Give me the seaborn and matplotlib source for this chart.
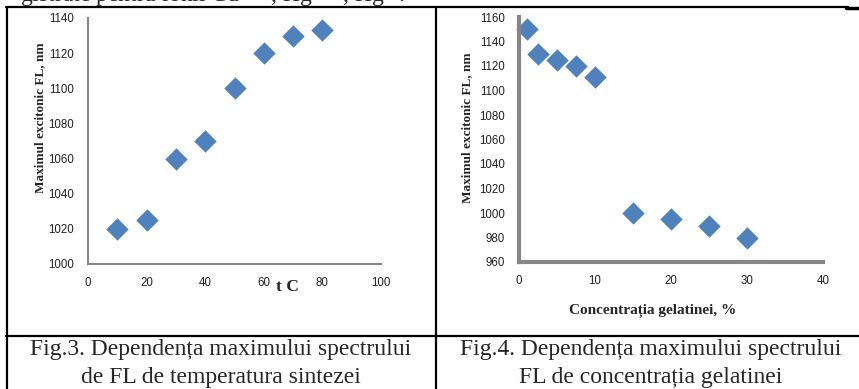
import numpy as np
import matplotlib
matplotlib.use("Agg")
import matplotlib.pyplot as plt
from matplotlib.lines import Line2D
import seaborn as sns
import pandas as pd

# Fig.3 - temperature of synthesis
temp_c = [10, 20, 30, 40, 50, 60, 70, 80]
max_fl_temp = [1020, 1025, 1060, 1070, 1100, 1120, 1130, 1133]

# Fig.4 - gelatin concentration
gel_conc = [1, 2.5, 5, 7.5, 10, 15, 20, 25, 30]
max_fl_gel = [1150, 1130, 1125, 1120, 1111, 1000, 995, 989, 980]

temp_ticks_x = [0, 20, 40, 60, 80, 100]
temp_ticks_y = [1000, 1020, 1040, 1060, 1080, 1100, 1120, 1140]
gel_ticks_x = [0, 10, 20, 30, 40]
gel_ticks_y = list(range(960, 1161, 20))

sns.set_theme(style="white")
plt.rcParams['font.family'] = ['Liberation Sans', 'DejaVu Sans']

W, H = 859, 389
fig = plt.figure(figsize=(W / 100, H / 100), dpi=100)

def fx(px):
    return px / W

def fy(py):
    return 1 - py / H

marker_color = '#4F81BD'
axis_gray = '#868686'
serif = ['Liberation Serif', 'DejaVu Serif']

def style_axes(ax, spine_w):
    for s in ['top', 'right']:
        ax.spines[s].set_visible(False)
    for s in ['left', 'bottom']:
        ax.spines[s].set_color(axis_gray)
        ax.spines[s].set_linewidth(spine_w)
    ax.tick_params(axis='both', which='major', direction='out', length=3,
                   width=1, color=axis_gray, labelsize=8.3, labelcolor='#222222')
    ax.tick_params(axis='x', pad=6)
    ax.tick_params(axis='y', pad=7)
    ax.grid(False)
    ax.set_facecolor('white')

# left chart
ax1 = fig.add_axes([fx(88), fy(264), fx(381 - 88), (264 - 18) / H])
df1 = pd.DataFrame({'t': temp_c, 'fl': max_fl_temp})
sns.scatterplot(data=df1, x='t', y='fl', ax=ax1, marker='D', s=130,
                color=marker_color, linewidth=0, clip_on=False)
ax1.set_xlim(0, 100)
ax1.set_ylim(1000, 1140)
ax1.set_xticks(temp_ticks_x)
ax1.set_yticks(temp_ticks_y)
style_axes(ax1, 1.5)
ax1.set_xlabel('')
ax1.set_ylabel('')
fig.text(fx(40), fy(118), 'Maximul excitonic FL, nm', rotation=90, ha='center', va='center',
         family=serif, fontweight='bold', fontsize=9.5)
fig.text(fx(287), fy(287), 't C', ha='center', va='center',
         family=serif, fontweight='bold', fontsize=12.5)

# right chart
ax2 = fig.add_axes([fx(519), fy(262), fx(823 - 519), (262 - 17) / H])
df2 = pd.DataFrame({'c': gel_conc, 'fl': max_fl_gel})
sns.scatterplot(data=df2, x='c', y='fl', ax=ax2, marker='D', s=130,
                color=marker_color, linewidth=0, clip_on=False)
ax2.set_xlim(0, 40)
ax2.set_ylim(960, 1160)
ax2.set_xticks(gel_ticks_x)
ax2.set_yticks(gel_ticks_y)
style_axes(ax2, 3)
ax2.set_xlabel('')
ax2.set_ylabel('')
fig.text(fx(467), fy(128), 'Maximul excitonic FL, nm', rotation=90, ha='center', va='center',
         family=serif, fontweight='bold', fontsize=9.5)
fig.text(fx(653), fy(310), 'Concentrația gelatinei, %', ha='center', va='center',
         family=serif, fontweight='bold', fontsize=11)

# captions
cap_size = 17
fig.text(fx(221), fy(350), 'Fig.3. Dependența maximului spectrului', ha='center', va='center',
         family=serif, fontsize=cap_size)
fig.text(fx(221), fy(377), 'de FL de temperatura sintezei', ha='center', va='center',
         family=serif, fontsize=cap_size)
fig.text(fx(651), fy(350), 'Fig.4. Dependența maximului spectrului', ha='center', va='center',
         family=serif, fontsize=cap_size)
fig.text(fx(651), fy(377), 'FL de concentrația gelatinei', ha='center', va='center',
         family=serif, fontsize=cap_size)

# partial line of text cut at top of the page
fig.text(fx(20), fy(3), 'gistrate pentru ionii Cd$^{2+}$, Hg$^{2+}$, Hg$^{+}$.', ha='left',
         va='baseline', family=serif, fontsize=cap_size)

# table borders
lk = dict(color='black', linewidth=1.6, transform=fig.transFigure)
fig.add_artist(Line2D([fx(6), fx(848)], [fy(7), fy(7)], **lk))
fig.add_artist(Line2D([fx(846), fx(859)], [fy(7.5), fy(7.5)], color='black', linewidth=2.5,
                      transform=fig.transFigure))
fig.add_artist(Line2D([fx(6), fx(859)], [fy(336), fy(336)], **lk))
fig.add_artist(Line2D([fx(7), fx(7)], [fy(7), fy(389)], **lk))
fig.add_artist(Line2D([fx(435.5), fx(435.5)], [fy(7), fy(389)], **lk))

fig.savefig('out.png', dpi=100, facecolor='white')
